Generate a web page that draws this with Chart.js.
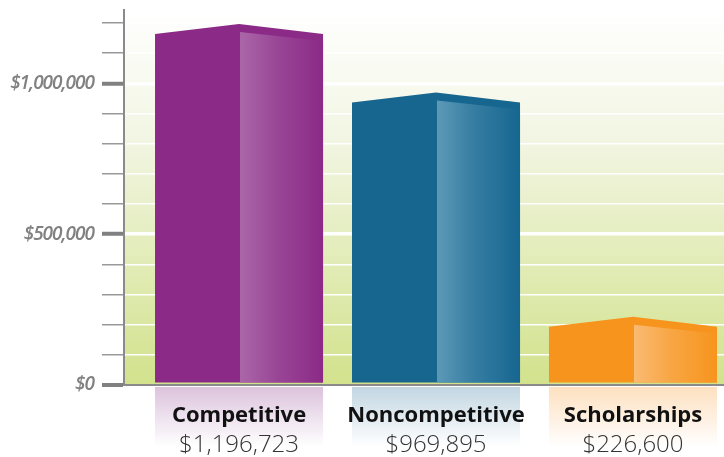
<!DOCTYPE html>
<html>
<head>
<meta charset="utf-8">
<script src="https://cdn.jsdelivr.net/npm/chart.js@4.4.1/dist/chart.umd.min.js"></script>
<style>
  html, body { margin: 0; padding: 0; background: #fff; }
  #wrap { width: 724px; height: 457px; }
</style>
</head>
<body>
<div id="wrap"><canvas id="grafico"></canvas></div>
<script>
// datos
const categorias = ['Competitive', 'Noncompetitive', 'Scholarships'];
const montos     = [1196723, 969895, 226600];
const ticksY     = [0, 100000, 200000, 300000, 400000, 500000, 600000, 700000, 800000, 900000, 1000000, 1100000, 1200000];
const ticksConEtiqueta = [0, 500000, 1000000];

// colores
const colores       = ['#8b2a87', '#166690', '#f7941d'];
const coloresClaros = ['#ab68a9', '#5e9ab8', '#fabb74'];
const coloresCaja   = ['#dcc3dc', '#c2d6e2', '#fde0c0'];

const fmt = v => '$' + v.toLocaleString('en-US');
const esMayor = v => Math.round(v) % 500000 === 0;

function mezcla(a, b, t) {
  const p = h => [1, 3, 5].map(k => parseInt(h.substr(k, 2), 16));
  const A = p(a), B = p(b);
  return 'rgb(' + A.map((v, k) => Math.round(v + (B[k] - v) * t)).join(',') + ')';
}

// fondo degradado del área + espaciado de las etiquetas del eje
const fondo = {
  id: 'fondo',
  beforeDraw(chart) {
    const { ctx, chartArea: a } = chart;
    const g = ctx.createLinearGradient(0, a.top, 0, a.bottom);
    g.addColorStop(0, '#ffffff');
    g.addColorStop(0.35, '#f2f5e2');
    g.addColorStop(1, '#d2e28c');
    ctx.save();
    ctx.fillStyle = g;
    ctx.fillRect(a.left, a.top, a.right - a.left, a.bottom - a.top);
    ctx.restore();
    ctx.letterSpacing = '-1px';
  },
  beforeDatasetsDraw(chart) {
    chart.ctx.letterSpacing = '0px';
  }
};

// barras con techo y cara clara
const barras3d = {
  id: 'barras3d',
  afterDatasetsDraw(chart) {
    const ctx = chart.ctx;
    const meta = chart.getDatasetMeta(0);
    const alero = 10;
    meta.data.forEach((bar, i) => {
      const { x, y, base, width } = bar.getProps(['x', 'y', 'base', 'width'], true);
      const l = x - width / 2, r = x + width / 2, b = base - 1.5;
      ctx.save();
      ctx.fillStyle = colores[i];
      ctx.beginPath();
      ctx.moveTo(l, b);
      ctx.lineTo(l, y + alero);
      ctx.lineTo(x, y);
      ctx.lineTo(r, y + alero);
      ctx.lineTo(r, b);
      ctx.closePath();
      ctx.fill();
      const g = ctx.createLinearGradient(x, 0, r, 0);
      g.addColorStop(0, coloresClaros[i]);
      g.addColorStop(0.45, mezcla(coloresClaros[i], colores[i], 0.55));
      g.addColorStop(1, colores[i]);
      ctx.fillStyle = g;
      ctx.beginPath();
      ctx.moveTo(x + 1, b);
      ctx.lineTo(x + 1, y + 8);
      ctx.lineTo(r, y + alero + 7);
      ctx.lineTo(r, b);
      ctx.closePath();
      ctx.fill();
      ctx.restore();
    });
  },
  afterDraw(chart) {
    const ctx = chart.ctx;
    const meta = chart.getDatasetMeta(0);
    const H = chart.height;
    meta.data.forEach((bar, i) => {
      const { x, base, width } = bar.getProps(['x', 'base', 'width'], true);
      const l = x - width / 2;
      const top = base + 3;
      ctx.save();
      const g = ctx.createLinearGradient(0, top, 0, H);
      g.addColorStop(0, coloresCaja[i]);
      g.addColorStop(0.85, '#ffffff');
      ctx.fillStyle = g;
      ctx.fillRect(l, top, width, H - top);
      ctx.textAlign = 'center';
      ctx.textBaseline = 'alphabetic';
      ctx.fillStyle = '#111111';
      ctx.font = '700 22px "Open Sans"';
      ctx.fillText(categorias[i], x, base + 38);
      ctx.fillStyle = '#333333';
      ctx.font = '300 24px "Open Sans"';
      ctx.fillText(fmt(montos[i]), x, base + 68);
      ctx.restore();
    });
  }
};

new Chart(document.getElementById('grafico'), {
  type: 'bar',
  data: {
    datasets: [{
      data: montos.map((v, i) => ({ x: i, y: v })),
      backgroundColor: 'rgba(0,0,0,0)',
      barPercentage: 0.853,
      categoryPercentage: 1
    }]
  },
  options: {
    responsive: true,
    maintainAspectRatio: false,
    animation: false,
    layout: { padding: { top: 10, bottom: 72, left: 0, right: 0 } },
    plugins: { legend: { display: false }, tooltip: { enabled: false } },
    scales: {
      x: {
        type: 'linear',
        display: false,
        offset: false,
        min: -0.584,
        max: 2.462,
        ticks: { stepSize: 1, includeBounds: false }
      },
      y: {
        min: 0,
        max: 1243000,
        afterFit: s => { s.width = 124; s.paddingTop = 0; s.paddingBottom = 0; },
        afterBuildTicks: s => { s.ticks = ticksY.map(v => ({ value: v })); },
        border: { color: '#8a8a8a', width: 2 },
        grid: {
          color: c => c.tick.value === 0 ? '#8a8a8a' : '#ffffff',
          lineWidth: c => c.tick.value === 0 ? 2 : (esMayor(c.tick.value) ? 3.5 : 1.5),
          tickColor: c => esMayor(c.tick.value) ? '#808080' : '#999999',
          tickWidth: c => esMayor(c.tick.value) ? 4 : 1.5,
          tickLength: 22
        },
        ticks: {
          padding: 8,
          autoSkip: false,
          color: '#818181',
          font: { family: 'Open Sans', style: 'italic', weight: '600', size: 19 },
          callback: v => ticksConEtiqueta.includes(v) ? fmt(v) : ''
        }
      }
    }
  },
  plugins: [fondo, barras3d]
});
</script>
</body>
</html>
